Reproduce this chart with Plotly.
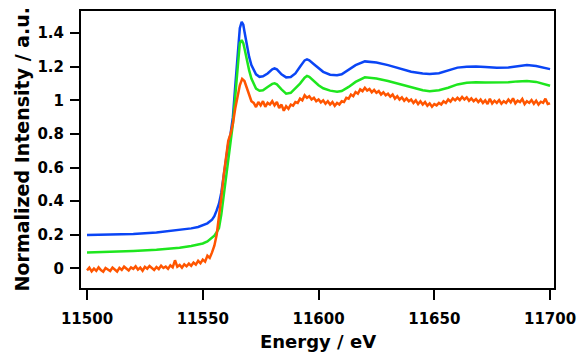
import plotly.graph_objects as go

# ---------------- data ----------------
energy_smooth = [11500, 11510, 11520, 11530, 11535, 11540, 11545, 11548, 11550, 11552,
                 11554, 11555, 11556, 11557, 11558, 11559, 11560, 11561, 11562, 11563,
                 11564, 11565, 11566, 11566.8, 11567.5, 11568, 11569, 11570, 11571, 11572,
                 11573, 11574.5, 11576, 11578, 11580, 11581, 11582, 11584, 11586, 11588,
                 11590, 11592, 11594, 11595, 11596, 11598, 11600, 11602, 11605, 11608,
                 11610, 11613, 11616, 11620, 11625, 11630, 11635, 11640, 11645, 11648,
                 11652, 11656, 11660, 11664, 11668, 11672, 11677, 11682, 11686, 11690,
                 11694, 11698, 11700]

blue_values = [0.198, 0.200, 0.205, 0.213, 0.220, 0.228, 0.238, 0.246, 0.255, 0.268,
               0.290, 0.310, 0.345, 0.385, 0.450, 0.550, 0.660, 0.740, 0.800, 0.900,
               1.080, 1.280, 1.430, 1.468, 1.450, 1.410, 1.330, 1.260, 1.210, 1.180,
               1.155, 1.140, 1.143, 1.160, 1.185, 1.190, 1.185, 1.155, 1.137, 1.139,
               1.160, 1.200, 1.238, 1.244, 1.238, 1.215, 1.190, 1.170, 1.153, 1.149,
               1.155, 1.180, 1.210, 1.232, 1.225, 1.210, 1.190, 1.170, 1.160, 1.157,
               1.162, 1.178, 1.195, 1.200, 1.202, 1.198, 1.194, 1.196, 1.203, 1.210,
               1.205, 1.192, 1.186]

green_values = [0.095, 0.098, 0.103, 0.110, 0.115, 0.122, 0.133, 0.141, 0.148, 0.160,
                0.180, 0.195, 0.215, 0.240, 0.320, 0.430, 0.530, 0.630, 0.740, 0.860,
                1.020, 1.200, 1.340, 1.359, 1.340, 1.310, 1.240, 1.180, 1.130, 1.095,
                1.070, 1.057, 1.060, 1.080, 1.098, 1.101, 1.095, 1.065, 1.040, 1.045,
                1.070, 1.100, 1.135, 1.145, 1.140, 1.115, 1.090, 1.072, 1.058, 1.051,
                1.056, 1.080, 1.110, 1.137, 1.130, 1.115, 1.097, 1.075, 1.060, 1.055,
                1.060, 1.075, 1.095, 1.105, 1.108, 1.106, 1.105, 1.108, 1.113, 1.115,
                1.110, 1.095, 1.087]

energy_noisy = list(range(11500, 11701))

orange_values = [
    -0.012, 0.004, -0.018, -0.002, -0.015, 0.006, -0.010, -0.020, 0.002, -0.008,
    -0.016, 0.005, -0.006, -0.019, 0.003, -0.009, 0.010, -0.004, -0.013, 0.006,
    -0.003, 0.012, -0.008, 0.004, -0.014, 0.009, -0.002, 0.014, 0.000, -0.010,
    0.008, -0.004, 0.016, 0.002, 0.011, -0.003, 0.018, 0.006, 0.048, 0.010,
    0.020, 0.004, 0.024, 0.012, 0.028, 0.015, 0.034, 0.022, 0.045, 0.030,
    0.052, 0.040, 0.075, 0.062, 0.095, 0.135, 0.200, 0.300, 0.420, 0.550,
    0.660, 0.760, 0.800, 0.860, 0.950, 1.030, 1.090, 1.128, 1.115, 1.075,
    1.040, 0.995, 0.985, 0.960, 0.990, 0.970, 0.995, 0.962, 0.985, 0.975,
    0.995, 0.970, 0.990, 0.955, 0.975, 0.938, 0.965, 0.950, 0.975, 0.968,
    0.990, 0.985, 1.010, 1.000, 1.030, 1.015, 1.025, 1.005, 1.015, 0.995,
    1.005, 0.988, 1.000, 0.980, 0.995, 0.975, 0.990, 0.968, 0.985, 0.975,
    0.995, 0.990, 1.015, 1.010, 1.035, 1.025, 1.050, 1.040, 1.065, 1.055,
    1.075, 1.058, 1.068, 1.048, 1.062, 1.045, 1.055, 1.035, 1.048, 1.030,
    1.040, 1.022, 1.035, 1.010, 1.025, 1.005, 1.018, 0.998, 1.012, 0.995,
    1.005, 0.985, 1.000, 0.978, 0.995, 0.975, 0.990, 0.968, 0.982, 0.962,
    0.978, 0.970, 0.985, 0.975, 0.995, 0.985, 1.005, 0.992, 1.012, 1.000,
    1.015, 1.002, 1.020, 1.005, 1.018, 0.998, 1.012, 0.995, 1.008, 0.990,
    1.005, 0.985, 1.000, 0.978, 1.010, 0.982, 0.998, 0.985, 1.002, 0.980,
    0.995, 0.985, 1.005, 0.988, 1.012, 0.982, 0.998, 0.990, 1.008, 0.978,
    0.995, 0.985, 1.002, 0.980, 0.998, 0.975, 0.992, 0.985, 1.010, 0.978,
    0.982,
]

x_tick_vals = [11500, 11550, 11600, 11650, 11700]
x_tick_text = ["11500", "11550", "11600", "11650", "11700"]
y_tick_vals = [0, 0.2, 0.4, 0.6, 0.8, 1.0, 1.2, 1.4]
y_tick_text = ["0", "0.2", "0.4", "0.6", "0.8", "1", "1.2", "1.4"]

x_title = "Energy / eV"
y_title = "Normalized Intensity / a.u."

# ---------------- figure ----------------
FONT = "DejaVu Sans"

fig = go.Figure()
fig.add_trace(go.Scatter(x=energy_smooth, y=blue_values, mode="lines",
                         line=dict(color="#0a45f5", width=2.5), showlegend=False))
fig.add_trace(go.Scatter(x=energy_smooth, y=green_values, mode="lines",
                         line=dict(color="#1ee61e", width=2.5), showlegend=False))
fig.add_trace(go.Scatter(x=energy_noisy, y=orange_values, mode="lines",
                         line=dict(color="#ff5500", width=2.5), showlegend=False))

axis_common = dict(
    showline=True, linecolor="black", linewidth=2, mirror=True,
    ticks="outside", tickcolor="black", tickwidth=2,
    showgrid=False, zeroline=False, automargin=False,
    tickfont=dict(family=FONT, size=15, color="black", weight="bold"),
)

fig.update_xaxes(range=[11497.4, 11701.7], tickvals=x_tick_vals, ticktext=x_tick_text,
                 ticklen=10, ticklabelstandoff=6, **axis_common)
fig.update_yaxes(range=[-0.117, 1.532], tickvals=y_tick_vals, ticktext=y_tick_text,
                 ticklen=9, ticklabelstandoff=3, **axis_common)

fig.update_layout(
    width=580, height=353,
    margin=dict(l=81, r=26, t=11, b=65),
    paper_bgcolor="white", plot_bgcolor="white",
    annotations=[
        dict(text=x_title, xref="paper", yref="paper", x=0.5, y=-0.192,
             xanchor="center", yanchor="middle", showarrow=False,
             font=dict(family=FONT, size=18, color="black", weight="bold")),
        dict(text=y_title, xref="paper", yref="paper", x=-0.1258, y=0.502,
             xanchor="center", yanchor="middle", textangle=-90, showarrow=False,
             font=dict(family=FONT, size=19, color="black", weight="bold")),
    ],
)

fig.write_html("out.html", config={"displayModeBar": False},
               post_script="document.body.style.margin='0';document.body.style.padding='0';")
